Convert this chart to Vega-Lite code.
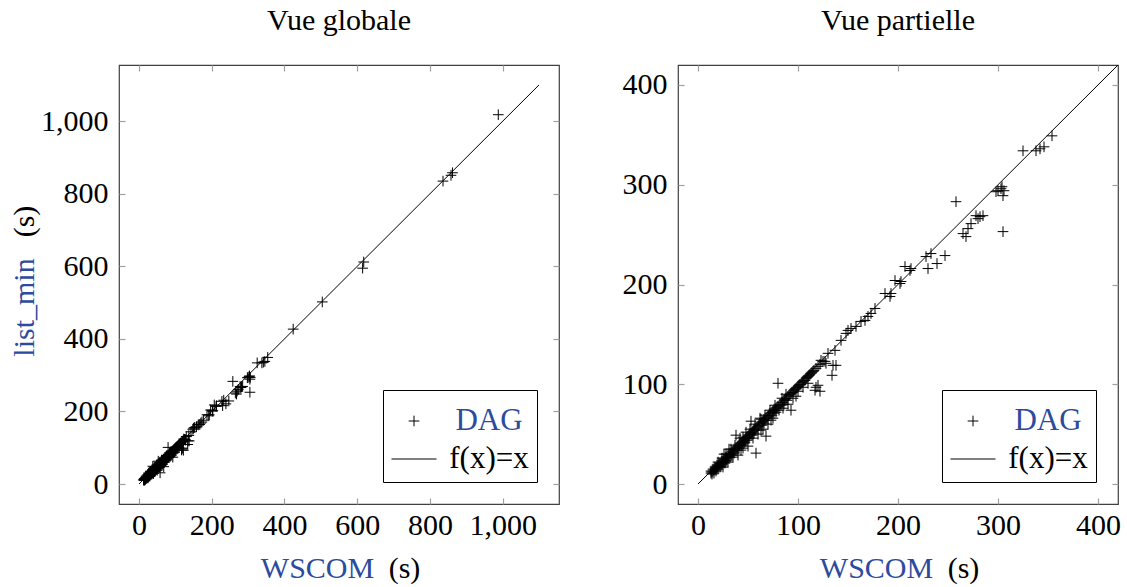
{
"$schema":"https://vega.github.io/schema/vega-lite/v6.json",
"background":"white",
"padding":{"left":8,"top":5,"right":5,"bottom":5},
"datasets":{
"pts":[
{"wscom":13,"listmin":11,"series":"DAG"},{"wscom":13,"listmin":13,"series":"DAG"},{"wscom":14,"listmin":12,"series":"DAG"},{"wscom":14,"listmin":10,"series":"DAG"},{"wscom":15,"listmin":13,"series":"DAG"},{"wscom":15,"listmin":15,"series":"DAG"},{"wscom":16,"listmin":14,"series":"DAG"},{"wscom":16,"listmin":11,"series":"DAG"},{"wscom":17,"listmin":15,"series":"DAG"},{"wscom":17,"listmin":17,"series":"DAG"},{"wscom":18,"listmin":16,"series":"DAG"},{"wscom":18,"listmin":13,"series":"DAG"},{"wscom":19,"listmin":17,"series":"DAG"},{"wscom":19,"listmin":19,"series":"DAG"},{"wscom":20,"listmin":18,"series":"DAG"},{"wscom":20,"listmin":15,"series":"DAG"},{"wscom":20,"listmin":22,"series":"DAG"},{"wscom":21,"listmin":19,"series":"DAG"},{"wscom":21,"listmin":21,"series":"DAG"},{"wscom":22,"listmin":20,"series":"DAG"},{"wscom":22,"listmin":17,"series":"DAG"},{"wscom":23,"listmin":21,"series":"DAG"},{"wscom":23,"listmin":18,"series":"DAG"},{"wscom":24,"listmin":23,"series":"DAG"},{"wscom":24,"listmin":20,"series":"DAG"},{"wscom":24,"listmin":26,"series":"DAG"},{"wscom":25,"listmin":22,"series":"DAG"},{"wscom":25,"listmin":17,"series":"DAG"},{"wscom":26,"listmin":25,"series":"DAG"},{"wscom":26,"listmin":22,"series":"DAG"},{"wscom":26,"listmin":30,"series":"DAG"},{"wscom":27,"listmin":24,"series":"DAG"},{"wscom":27,"listmin":21,"series":"DAG"},{"wscom":28,"listmin":27,"series":"DAG"},{"wscom":28,"listmin":23,"series":"DAG"},{"wscom":28,"listmin":30,"series":"DAG"},{"wscom":29,"listmin":26,"series":"DAG"},{"wscom":29,"listmin":24,"series":"DAG"},{"wscom":30,"listmin":28,"series":"DAG"},{"wscom":30,"listmin":22,"series":"DAG"},{"wscom":31,"listmin":29,"series":"DAG"},{"wscom":31,"listmin":35,"series":"DAG"},{"wscom":32,"listmin":31,"series":"DAG"},{"wscom":32,"listmin":27,"series":"DAG"},{"wscom":33,"listmin":30,"series":"DAG"},{"wscom":33,"listmin":35,"series":"DAG"},{"wscom":34,"listmin":33,"series":"DAG"},{"wscom":34,"listmin":29,"series":"DAG"},{"wscom":35,"listmin":32,"series":"DAG"},{"wscom":35,"listmin":27,"series":"DAG"},{"wscom":36,"listmin":35,"series":"DAG"},{"wscom":36,"listmin":31,"series":"DAG"},{"wscom":37,"listmin":34,"series":"DAG"},{"wscom":37,"listmin":39,"series":"DAG"},{"wscom":38,"listmin":36,"series":"DAG"},{"wscom":38,"listmin":49,"series":"DAG"},{"wscom":39,"listmin":37,"series":"DAG"},{"wscom":39,"listmin":34,"series":"DAG"},{"wscom":40,"listmin":38,"series":"DAG"},{"wscom":40,"listmin":29,"series":"DAG"},{"wscom":41,"listmin":39,"series":"DAG"},{"wscom":41,"listmin":36,"series":"DAG"},{"wscom":42,"listmin":41,"series":"DAG"},{"wscom":42,"listmin":46,"series":"DAG"},{"wscom":43,"listmin":40,"series":"DAG"},{"wscom":43,"listmin":34,"series":"DAG"},{"wscom":44,"listmin":42,"series":"DAG"},{"wscom":44,"listmin":39,"series":"DAG"},{"wscom":45,"listmin":43,"series":"DAG"},{"wscom":45,"listmin":36,"series":"DAG"},{"wscom":45,"listmin":47,"series":"DAG"},{"wscom":46,"listmin":45,"series":"DAG"},{"wscom":46,"listmin":41,"series":"DAG"},{"wscom":47,"listmin":44,"series":"DAG"},{"wscom":47,"listmin":42,"series":"DAG"},{"wscom":48,"listmin":46,"series":"DAG"},{"wscom":48,"listmin":52,"series":"DAG"},{"wscom":49,"listmin":47,"series":"DAG"},{"wscom":49,"listmin":44,"series":"DAG"},{"wscom":50,"listmin":48,"series":"DAG"},{"wscom":50,"listmin":38,"series":"DAG"},{"wscom":51,"listmin":49,"series":"DAG"},{"wscom":51,"listmin":46,"series":"DAG"},{"wscom":52,"listmin":50,"series":"DAG"},{"wscom":52,"listmin":55,"series":"DAG"},{"wscom":53,"listmin":51,"series":"DAG"},{"wscom":53,"listmin":63,"series":"DAG"},{"wscom":54,"listmin":52,"series":"DAG"},{"wscom":54,"listmin":49,"series":"DAG"},{"wscom":55,"listmin":53,"series":"DAG"},{"wscom":55,"listmin":46,"series":"DAG"},{"wscom":56,"listmin":55,"series":"DAG"},{"wscom":56,"listmin":51,"series":"DAG"},{"wscom":57,"listmin":54,"series":"DAG"},{"wscom":57,"listmin":60,"series":"DAG"},{"wscom":58,"listmin":56,"series":"DAG"},{"wscom":58,"listmin":31,"series":"DAG"},{"wscom":59,"listmin":57,"series":"DAG"},{"wscom":60,"listmin":58,"series":"DAG"},{"wscom":60,"listmin":50,"series":"DAG"},{"wscom":61,"listmin":59,"series":"DAG"},{"wscom":62,"listmin":61,"series":"DAG"},{"wscom":62,"listmin":66,"series":"DAG"},{"wscom":63,"listmin":54,"series":"DAG"},{"wscom":63,"listmin":65,"series":"DAG"},{"wscom":64,"listmin":62,"series":"DAG"},{"wscom":64,"listmin":59,"series":"DAG"},{"wscom":65,"listmin":63,"series":"DAG"},{"wscom":65,"listmin":55,"series":"DAG"},{"wscom":66,"listmin":65,"series":"DAG"},{"wscom":66,"listmin":61,"series":"DAG"},{"wscom":67,"listmin":64,"series":"DAG"},{"wscom":67,"listmin":69,"series":"DAG"},{"wscom":68,"listmin":66,"series":"DAG"},{"wscom":68,"listmin":48,"series":"DAG"},{"wscom":69,"listmin":67,"series":"DAG"},{"wscom":70,"listmin":68,"series":"DAG"},{"wscom":70,"listmin":60,"series":"DAG"},{"wscom":71,"listmin":69,"series":"DAG"},{"wscom":72,"listmin":71,"series":"DAG"},{"wscom":72,"listmin":74,"series":"DAG"},{"wscom":73,"listmin":64,"series":"DAG"},{"wscom":74,"listmin":72,"series":"DAG"},{"wscom":74,"listmin":69,"series":"DAG"},{"wscom":75,"listmin":73,"series":"DAG"},{"wscom":75,"listmin":66,"series":"DAG"},{"wscom":76,"listmin":75,"series":"DAG"},{"wscom":76,"listmin":71,"series":"DAG"},{"wscom":77,"listmin":74,"series":"DAG"},{"wscom":77,"listmin":79,"series":"DAG"},{"wscom":78,"listmin":76,"series":"DAG"},{"wscom":78,"listmin":72,"series":"DAG"},{"wscom":79,"listmin":77,"series":"DAG"},{"wscom":80,"listmin":78,"series":"DAG"},{"wscom":80,"listmin":101,"series":"DAG"},{"wscom":81,"listmin":74,"series":"DAG"},{"wscom":82,"listmin":80,"series":"DAG"},{"wscom":83,"listmin":79,"series":"DAG"},{"wscom":84,"listmin":82,"series":"DAG"},{"wscom":84,"listmin":86,"series":"DAG"},{"wscom":85,"listmin":82,"series":"DAG"},{"wscom":85,"listmin":76,"series":"DAG"},{"wscom":86,"listmin":84,"series":"DAG"},{"wscom":86,"listmin":80,"series":"DAG"},{"wscom":87,"listmin":85,"series":"DAG"},{"wscom":88,"listmin":86,"series":"DAG"},{"wscom":88,"listmin":90,"series":"DAG"},{"wscom":89,"listmin":84,"series":"DAG"},{"wscom":90,"listmin":88,"series":"DAG"},{"wscom":90,"listmin":80,"series":"DAG"},{"wscom":91,"listmin":89,"series":"DAG"},{"wscom":92,"listmin":90,"series":"DAG"},{"wscom":93,"listmin":74,"series":"DAG"},{"wscom":93,"listmin":91,"series":"DAG"},{"wscom":94,"listmin":92,"series":"DAG"},{"wscom":95,"listmin":92,"series":"DAG"},{"wscom":95,"listmin":86,"series":"DAG"},{"wscom":96,"listmin":94,"series":"DAG"},{"wscom":97,"listmin":95,"series":"DAG"},{"wscom":98,"listmin":88,"series":"DAG"},{"wscom":98,"listmin":96,"series":"DAG"},{"wscom":99,"listmin":97,"series":"DAG"},{"wscom":100,"listmin":98,"series":"DAG"},{"wscom":100,"listmin":93,"series":"DAG"},{"wscom":101,"listmin":99,"series":"DAG"},{"wscom":102,"listmin":100,"series":"DAG"},{"wscom":103,"listmin":100,"series":"DAG"},{"wscom":104,"listmin":102,"series":"DAG"},{"wscom":105,"listmin":103,"series":"DAG"},{"wscom":105,"listmin":97,"series":"DAG"},{"wscom":106,"listmin":104,"series":"DAG"},{"wscom":107,"listmin":104,"series":"DAG"},{"wscom":108,"listmin":106,"series":"DAG"},{"wscom":109,"listmin":107,"series":"DAG"},{"wscom":110,"listmin":108,"series":"DAG"},{"wscom":110,"listmin":101,"series":"DAG"},{"wscom":111,"listmin":109,"series":"DAG"},{"wscom":112,"listmin":110,"series":"DAG"},{"wscom":113,"listmin":111,"series":"DAG"},{"wscom":114,"listmin":112,"series":"DAG"},{"wscom":115,"listmin":113,"series":"DAG"},{"wscom":116,"listmin":114,"series":"DAG"},{"wscom":117,"listmin":94,"series":"DAG"},{"wscom":118,"listmin":97,"series":"DAG"},{"wscom":118,"listmin":116,"series":"DAG"},{"wscom":120,"listmin":99,"series":"DAG"},{"wscom":120,"listmin":118,"series":"DAG"},{"wscom":122,"listmin":93,"series":"DAG"},{"wscom":122,"listmin":120,"series":"DAG"},{"wscom":123,"listmin":124,"series":"DAG"},{"wscom":125,"listmin":123,"series":"DAG"},{"wscom":127,"listmin":123,"series":"DAG"},{"wscom":128,"listmin":121,"series":"DAG"},{"wscom":130,"listmin":131,"series":"DAG"},{"wscom":134,"listmin":109,"series":"DAG"},{"wscom":135,"listmin":119,"series":"DAG"},{"wscom":138,"listmin":119,"series":"DAG"},{"wscom":137,"listmin":134,"series":"DAG"},{"wscom":143,"listmin":144,"series":"DAG"},{"wscom":148,"listmin":151,"series":"DAG"},{"wscom":150,"listmin":154,"series":"DAG"},{"wscom":153,"listmin":156,"series":"DAG"},{"wscom":158,"listmin":158,"series":"DAG"},{"wscom":163,"listmin":163,"series":"DAG"},{"wscom":167,"listmin":164,"series":"DAG"},{"wscom":170,"listmin":168,"series":"DAG"},{"wscom":173,"listmin":171,"series":"DAG"},{"wscom":177,"listmin":176,"series":"DAG"},{"wscom":187,"listmin":191,"series":"DAG"},{"wscom":192,"listmin":188,"series":"DAG"},{"wscom":193,"listmin":191,"series":"DAG"},{"wscom":197,"listmin":204,"series":"DAG"},{"wscom":202,"listmin":201,"series":"DAG"},{"wscom":203,"listmin":203,"series":"DAG"},{"wscom":207,"listmin":218,"series":"DAG"},{"wscom":212,"listmin":214,"series":"DAG"},{"wscom":213,"listmin":216,"series":"DAG"},{"wscom":228,"listmin":228,"series":"DAG"},{"wscom":230,"listmin":216,"series":"DAG"},{"wscom":233,"listmin":231,"series":"DAG"},{"wscom":239,"listmin":221,"series":"DAG"},{"wscom":247,"listmin":229,"series":"DAG"},{"wscom":258,"listmin":283,"series":"DAG"},{"wscom":265,"listmin":251,"series":"DAG"},{"wscom":268,"listmin":248,"series":"DAG"},{"wscom":270,"listmin":256,"series":"DAG"},{"wscom":273,"listmin":261,"series":"DAG"},{"wscom":278,"listmin":269,"series":"DAG"},{"wscom":280,"listmin":266,"series":"DAG"},{"wscom":282,"listmin":268,"series":"DAG"},{"wscom":285,"listmin":269,"series":"DAG"},{"wscom":298,"listmin":293,"series":"DAG"},{"wscom":300,"listmin":294,"series":"DAG"},{"wscom":303,"listmin":296,"series":"DAG"},{"wscom":305,"listmin":289,"series":"DAG"},{"wscom":306,"listmin":294,"series":"DAG"},{"wscom":304,"listmin":298,"series":"DAG"},{"wscom":305,"listmin":253,"series":"DAG"},{"wscom":325,"listmin":334,"series":"DAG"},{"wscom":338,"listmin":334,"series":"DAG"},{"wscom":342,"listmin":336,"series":"DAG"},{"wscom":346,"listmin":338,"series":"DAG"},{"wscom":354,"listmin":349,"series":"DAG"},
{"wscom":424,"listmin":427,"series":"DAG"},{"wscom":504,"listmin":502,"series":"DAG"},{"wscom":615,"listmin":595,"series":"DAG"},{"wscom":618,"listmin":612,"series":"DAG"},{"wscom":836,"listmin":835,"series":"DAG"},{"wscom":858,"listmin":851,"series":"DAG"},{"wscom":862,"listmin":858,"series":"DAG"},{"wscom":988,"listmin":1018,"series":"DAG"}
],
"line":[{"x":0,"y":0},{"x":1100,"y":1100}]
},
"config":{
"view":{"stroke":"#404040","strokeWidth":1.2},
"title":{"font":"Liberation Serif","fontSize":30,"fontWeight":"normal","color":"black","frame":"group","anchor":"middle","baseline":"alphabetic","offset":28},
"axis":{"domain":false,"grid":false,"tickColor":"#a0a0a0","tickSize":-6,"tickWidth":1.2,"labelFont":"Liberation Serif","labelFontSize":30,"labelColor":"black","titleFont":"Liberation Serif","titleFontSize":30,"titleFontWeight":"normal","titleColor":"black","labelFlush":false,"labelOverlap":false,"labelBound":false},
"legend":{"orient":"bottom-right","offset":22,"strokeColor":"black","fillColor":"white","padding":8,"cornerRadius":0,"labelFont":"Liberation Serif","labelFontSize":31,"labelAlign":"center","labelOffset":52,"symbolSize":2025,"symbolStrokeWidth":1,"symbolStrokeColor":"black","symbolFillColor":"transparent","rowPadding":-2,"labelColor":{"expr":"datum.label === 'DAG' ? '#2c4b9e' : 'black'"}}
},
"spacing":60,
"resolve":{"scale":{"color":"independent","shape":"independent"},"legend":{"color":"independent","shape":"independent"}},
"hconcat":[
{
"width":440,"height":439,
"title":{"text":"Vue globale","font":"Liberation Serif","fontSize":30,"fontWeight":"normal"},
"layer":[
{"data":{"name":"pts"},"mark":{"type":"point","filled":false,"size":2025,"strokeWidth":1,"opacity":1},
"encoding":{
"x":{"field":"wscom","type":"quantitative","scale":{"domain":[-55,1155],"nice":false,"zero":false},"axis":{"orient":"bottom","values":[0,200,400,600,800,1000],"format":",d","labelFont":"Liberation Serif","labelBaseline":"alphabetic","labelPadding":36,"title":"WSCOM","titleFont":"Liberation Serif","titleColor":"#2c4b9e","titleX":198,"titleY":73,"titleAlign":"center","titleBaseline":"alphabetic"}},
"y":{"field":"listmin","type":"quantitative","scale":{"domain":[-55,1155],"nice":false,"zero":false},"axis":{"orient":"left","values":[0,200,400,600,800,1000],"format":",d","labelFont":"Liberation Serif","labelPadding":17,"title":"list_min","titleFont":"Liberation Serif","titleColor":"#2c4b9e","titleX":-86,"titleY":242,"titleAlign":"center","titleBaseline":"alphabetic","titleAngle":-90}},
"shape":{"field":"series","type":"nominal","scale":{"domain":["DAG","f(x)=x"],"range":["M-0.237,0H0.237M0,-0.237V0.237","M-1,0H1"]},"legend":{"title":null,"labelFont":"Liberation Serif"}},
"color":{"field":"series","type":"nominal","scale":{"domain":["DAG","f(x)=x"],"range":["black","black"]},"legend":{"title":null,"labelFont":"Liberation Serif"}}
}},
{"data":{"name":"line"},"mark":{"type":"line","color":"black","strokeWidth":1},
"encoding":{
"x":{"field":"x","type":"quantitative","scale":{"domain":[-55,1155],"nice":false,"zero":false},"axis":{"orient":"bottom","ticks":false,"labels":false,"title":"(s)","titleFont":"Liberation Serif","titleX":285,"titleY":73,"titleAlign":"center","titleBaseline":"alphabetic"}},
"y":{"field":"y","type":"quantitative","scale":{"domain":[-55,1155],"nice":false,"zero":false},"axis":{"orient":"left","ticks":false,"labels":false,"title":"(s)","titleFont":"Liberation Serif","titleX":-86,"titleY":156,"titleAlign":"center","titleBaseline":"alphabetic","titleAngle":-90}}
}},
{"data":{"name":"line"},"mark":{"type":"point","opacity":0},
"encoding":{
"x":{"field":"x","type":"quantitative","scale":{"domain":[-55,1155],"nice":false,"zero":false},"axis":{"orient":"top","values":[0,200,400,600,800,1000],"labels":false,"title":null}},
"y":{"field":"y","type":"quantitative","scale":{"domain":[-55,1155],"nice":false,"zero":false},"axis":{"orient":"right","values":[0,200,400,600,800,1000],"labels":false,"title":null}}
}}
],
"resolve":{"axis":{"x":"independent","y":"independent"}}
},
{
"width":440,"height":439,
"title":{"text":"Vue partielle","font":"Liberation Serif","fontSize":30,"fontWeight":"normal"},
"layer":[
{"data":{"name":"pts"},"mark":{"type":"point","filled":false,"size":2025,"strokeWidth":1,"opacity":1,"clip":true},
"encoding":{
"x":{"field":"wscom","type":"quantitative","scale":{"domain":[-20,420],"nice":false,"zero":false},"axis":{"orient":"bottom","values":[0,100,200,300,400],"labelFont":"Liberation Serif","labelBaseline":"alphabetic","labelPadding":36,"title":"WSCOM","titleFont":"Liberation Serif","titleColor":"#2c4b9e","titleX":198,"titleY":73,"titleAlign":"center","titleBaseline":"alphabetic"}},
"y":{"field":"listmin","type":"quantitative","scale":{"domain":[-20,420],"nice":false,"zero":false},"axis":{"orient":"left","values":[0,100,200,300,400],"labelFont":"Liberation Serif","labelPadding":17,"title":null}},
"shape":{"field":"series","type":"nominal","scale":{"domain":["DAG","f(x)=x"],"range":["M-0.237,0H0.237M0,-0.237V0.237","M-1,0H1"]},"legend":{"title":null,"labelFont":"Liberation Serif"}},
"color":{"field":"series","type":"nominal","scale":{"domain":["DAG","f(x)=x"],"range":["black","black"]},"legend":{"title":null,"labelFont":"Liberation Serif"}}
}},
{"data":{"name":"line"},"mark":{"type":"line","color":"black","strokeWidth":1,"clip":true},
"encoding":{
"x":{"field":"x","type":"quantitative","scale":{"domain":[-20,420],"nice":false,"zero":false},"axis":{"orient":"bottom","ticks":false,"labels":false,"title":"(s)","titleFont":"Liberation Serif","titleX":285,"titleY":73,"titleAlign":"center","titleBaseline":"alphabetic"}},
"y":{"field":"y","type":"quantitative","scale":{"domain":[-20,420],"nice":false,"zero":false},"axis":null}
}},
{"data":{"name":"line"},"mark":{"type":"point","opacity":0,"clip":true},
"encoding":{
"x":{"field":"x","type":"quantitative","scale":{"domain":[-20,420],"nice":false,"zero":false},"axis":{"orient":"top","values":[0,100,200,300,400],"labels":false,"title":null}},
"y":{"field":"y","type":"quantitative","scale":{"domain":[-20,420],"nice":false,"zero":false},"axis":{"orient":"right","values":[0,100,200,300,400],"labels":false,"title":null}}
}}
],
"resolve":{"axis":{"x":"independent","y":"independent"}}
}
]
}
